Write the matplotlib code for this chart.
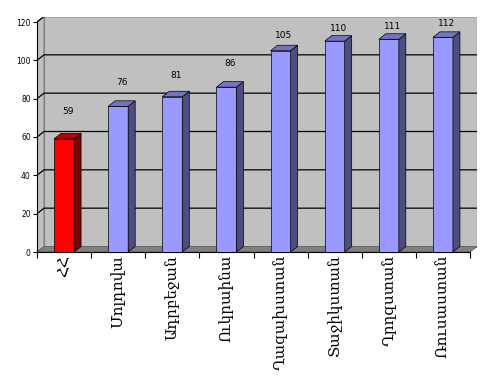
import matplotlib
matplotlib.use('Agg')
import matplotlib.pyplot as plt
from matplotlib.patches import Polygon, Rectangle

countries = ['ՀՀ', 'Մոլդովա', 'Ադրբեջան', 'Ուկրաինա', 'Ղազախստան',
             'Տաջիկստան', 'Ղրղզստան', 'Ռուսաստան']
values = [59, 76, 81, 86, 105, 110, 111, 112]
# pixel gap between bar top and its value label
label_gap_px = [27, 24, 21, 24, 15, 13, 13, 14]

W, H = 502, 385
fig = plt.figure(figsize=(W / 100, H / 100), dpi=100)
fig.patch.set_facecolor('white')

# plot area in pixels
x0, x1 = 37, 470
y0, y1 = 252, 22
ddx, ddy = 7, 5.5   # 3D depth in pixels
ymax = 120
n = len(values)
pxx = (x1 - x0) / n
pxy = (y0 - y1) / ymax
dx = ddx / pxx
dy = ddy / pxy

ax = fig.add_axes([x0 / W, (H - y0) / H, (x1 + ddx - x0) / W, (y0 - y1 + ddy) / H])
ax.set_xlim(-0.5, n - 0.5 + dx)
ax.set_ylim(0, ymax + dy)
ax.set_facecolor('none')

left, right = -0.5, n - 0.5
wall = '#C0C0C0'
edge = '#808080'
# back wall
ax.add_patch(Rectangle((left + dx, dy), right - left, ymax, fc=wall, ec=edge, lw=0.8, zorder=0))
# side wall
ax.add_patch(Polygon([(left, 0), (left + dx, dy), (left + dx, ymax + dy), (left, ymax)],
                     closed=True, fc=wall, ec=edge, lw=0.8, zorder=0))
# floor
ax.add_patch(Polygon([(left, 0), (right, 0), (right + dx, dy), (left + dx, dy)],
                     closed=True, fc=edge, ec='#606060', lw=0.6, zorder=1))
# gridlines
for v in range(20, ymax + 1, 20):
    ax.plot([left, left + dx, right + dx], [v, v + dy, v + dy], color='black', lw=0.9, zorder=1)

w = 20 / pxx
for i, v in enumerate(values):
    if i == 0:
        front, side, top = '#FF0000', '#800000', '#C00000'
    else:
        front, side, top = '#9999FF', '#4D4D80', '#7373BF'
    ax.add_patch(Rectangle((i - w / 2, 0), w, v, fc=front, ec='black', lw=0.5, zorder=3))
    ax.add_patch(Polygon([(i + w / 2, 0), (i + w / 2 + dx, dy), (i + w / 2 + dx, v + dy), (i + w / 2, v)],
                         closed=True, fc=side, ec='black', lw=0.5, zorder=3))
    ax.add_patch(Polygon([(i - w / 2, v), (i + w / 2, v), (i + w / 2 + dx, v + dy), (i - w / 2 + dx, v + dy)],
                         closed=True, fc=top, ec='black', lw=0.5, zorder=3))
    ax.annotate(str(v), (i + dx / 2, v), xytext=(0, label_gap_px[i] * 0.72),
                textcoords='offset points', ha='center', va='center',
                fontsize=6.5, family='DejaVu Sans', zorder=4)

for s in ['top', 'right']:
    ax.spines[s].set_visible(False)
ax.spines['left'].set_bounds(0, ymax)
ax.spines['bottom'].set_bounds(left, right)
ax.spines['left'].set_linewidth(0.8)
ax.spines['bottom'].set_linewidth(0.8)

ax.set_yticks(range(0, ymax + 1, 20))
ax.tick_params(axis='y', direction='out', length=3, width=0.8, labelsize=5.5, pad=1.5)
ax.set_xticks(range(n))
ax.set_xticklabels(countries, rotation=90, fontsize=11,
                   family=['DejaVu Serif', 'DejaVu Sans'])
ax.tick_params(axis='x', which='major', length=0, pad=2)
ax.set_xticks([k - 0.5 for k in range(n + 1)], minor=True)
ax.tick_params(axis='x', which='minor', direction='out', length=4, width=0.8)

fig.savefig('out.png', dpi=100)
